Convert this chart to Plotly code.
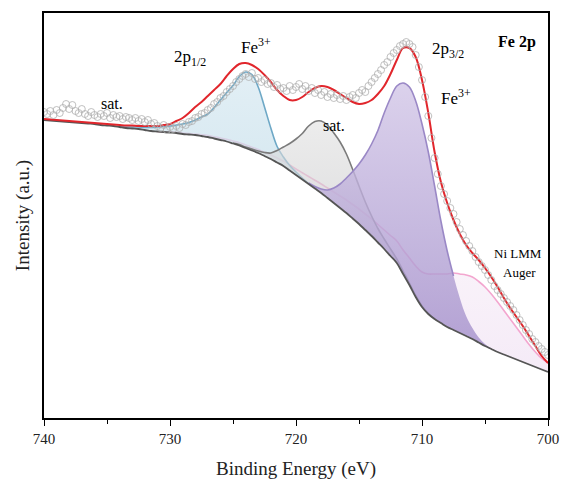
import numpy as np
import plotly.graph_objects as go

# ---------------- Fe 2p XPS spectrum ----------------
# fit grid (binding energy, eV), 740 -> 700 in 0.5 eV steps
energy = np.round(np.arange(740.0, 699.99, -0.5), 2)

# Shirley background (a.u.)
background = [298, 297.5, 297, 296.5, 296, 295.5, 295, 294.5, 294, 293, 292.5, 292, 291, 290,
              289.5, 289, 288, 287, 286.5, 286, 285.5, 285, 284, 283.5, 283, 282, 281, 279.5,
              278, 276.5, 274.5, 272.5, 270, 267.5, 265, 262, 259, 255.5, 252, 247.5, 243,
              238.5, 234, 229.5, 225, 220, 215, 210, 205, 199.5, 194, 188, 182, 175.5, 169,
              162, 155, 144, 133, 121, 111, 104, 99, 95, 91, 88, 85, 82, 79, 75.5, 72, 69, 66,
              63.5, 61, 58.5, 56, 53.5, 51, 48.5, 46]

# fitted envelope (a.u.)
envelope = [299, 298.5, 298, 297.5, 297, 296.5, 296, 295.5, 295, 294.5, 294, 293.5, 293, 292.5,
            292.5, 292, 292, 292, 292, 293, 294, 297, 300, 305, 311, 316, 322, 328, 334, 342,
            349, 354, 355, 353, 349, 343, 336, 328, 322, 318, 318, 321, 326, 330, 332, 331,
            328, 324, 320, 316, 314, 315, 318, 324, 332, 344, 358, 370, 370, 361, 338, 305,
            266, 236, 215, 198, 184, 173, 165, 158, 150, 141, 131, 120, 110, 101, 92, 82, 72,
            62, 55]

# components: heights above background, with the energy window each one spans
fe3_2p12_range = (734.0, 719.0)
fe3_2p12 = [0.5, 1, 1.5, 2, 2.5, 3.5, 4.5, 5.5, 6.5, 8, 10, 12, 15, 19, 23, 31, 40, 49, 58, 69,
            76, 76, 66, 49, 31, 16, 9, 5, 3, 1.5, 0.5]

sat_range = (725.0, 709.0)
satellite = [0.5, 1, 1, 1.5, 2, 3.5, 6, 12, 19, 27, 36, 46, 58, 67, 72, 73, 70, 66, 59, 49, 38,
             28, 20, 14, 10, 7, 4, 3, 2, 1.5, 1, 0.5, 0]

fe3_2p32_range = (719.0, 704.0)
fe3_2p32 = [1, 2, 4, 8, 15, 24, 35, 47, 60, 75, 92, 112, 136, 158, 177, 191, 198, 196, 183,
            162, 133, 102, 76, 54, 35, 20, 11, 5, 2, 0.5, 0]

auger_range = (731.0, 700.0)
ni_auger = [0, 0.3, 0.5, 0.8, 1, 1, 1, 1.3, 1.5, 1.8, 2, 2.3, 2.5, 2.8, 3, 3.3, 3.5, 3.8, 4,
            4.5, 5, 5.5, 6, 6.8, 7.5, 8.3, 9, 10, 11, 12, 13, 14, 15, 16, 17, 18, 19, 20.5, 22,
            24, 27, 31, 35, 40, 45, 49, 53, 57, 59, 61, 62, 61, 59, 55, 50, 44, 38, 32, 26,
            20, 15, 11, 9]

# measured spectrum, 740 -> 700 in 0.25 eV steps (a.u.)
meas_energy = np.round(np.arange(740.0, 699.99, -0.25), 2)
meas_counts = [306, 304, 307, 303, 308, 305, 310, 314, 309, 313, 307, 305, 309, 304, 302, 306,
               303, 301, 304, 302, 305, 300, 303, 301, 302, 299, 301, 300, 298, 300, 297, 299,
               296, 298, 294, 295, 292, 290, 293, 288, 291, 289, 292, 290, 294, 293, 296, 297,
               300, 301, 304, 305, 308, 310, 314, 316, 320, 322, 326, 329, 332, 336, 339, 342,
               344, 341, 345, 339, 340, 336, 338, 334, 335, 331, 333, 329, 330, 327, 332, 328,
               331, 334, 329, 332, 327, 330, 325, 328, 323, 326, 321, 324, 320, 323, 319, 322,
               318, 321, 323, 320, 325, 328, 326, 332, 336, 340, 344, 348, 353, 356, 361, 365,
               368, 372, 374, 376, 374, 371, 363, 351, 338, 321, 302, 280, 260, 244, 232, 224,
               217, 210, 204, 196, 189, 183, 177, 172, 167, 161, 156, 152, 148, 143, 138, 132,
               128, 124, 120, 116, 112, 108, 103, 98, 93, 88, 84, 79, 76, 72, 69, 66, 63]

SERIF = "Liberation Serif, Times New Roman, serif"

fig = go.Figure()


def window(rng):
    hi, lo = rng
    return np.where((energy <= hi + 1e-9) & (energy >= lo - 1e-9))[0]


def add_component(rng, heights, line_color, gradient, line_until=None):
    idx = window(rng)
    x = energy[idx]
    base = np.asarray(background)[idx]
    top = base + np.asarray(heights)
    fig.add_trace(go.Scatter(x=x, y=base, mode="lines", line=dict(width=0, shape="spline"),
                             hoverinfo="skip", showlegend=False))
    outline = dict(color=line_color, width=1.6, shape="spline")
    if line_until is not None:
        outline = dict(width=0, shape="spline")
    fig.add_trace(go.Scatter(x=x, y=top, mode="lines", fill="tonexty",
                             fillgradient=dict(type="vertical", colorscale=gradient),
                             line=outline, showlegend=False))
    if line_until is not None:
        keep = x >= line_until - 1e-9
        fig.add_trace(go.Scatter(x=x[keep], y=top[keep], mode="lines",
                                 line=dict(color=line_color, width=1.6, shape="spline"),
                                 showlegend=False))


# Ni LMM Auger
add_component(auger_range, ni_auger, "#f3a6cf",
              [[0, "rgba(236,218,240,0.55)"], [1, "rgba(254,248,251,0.5)"]])
# Fe3+ 2p1/2
add_component(fe3_2p12_range, fe3_2p12, "#6ea8c6",
              [[0, "rgba(196,222,234,0.7)"], [1, "rgba(214,232,241,0.7)"]])
# satellite
add_component(sat_range, satellite, "#7b7b7b",
              [[0, "rgba(182,182,186,0.6)"], [1, "rgba(224,224,224,0.6)"]])
# Fe3+ 2p3/2 (outline stops where it meets the Auger component)
add_component(fe3_2p32_range, fe3_2p32, "#9a88c6",
              [[0, "rgba(162,142,202,0.8)"], [1, "rgba(210,198,231,0.8)"]],
              line_until=707.5)

# background line
fig.add_trace(go.Scatter(x=energy, y=background, mode="lines",
                         line=dict(color="#555555", width=1.8, shape="spline"),
                         showlegend=False))
# envelope
fig.add_trace(go.Scatter(x=energy, y=envelope, mode="lines",
                         line=dict(color="#e1262c", width=2, shape="spline"),
                         showlegend=False))
# raw data
fig.add_trace(go.Scatter(x=meas_energy, y=meas_counts, mode="markers",
                         marker=dict(symbol="circle-open", size=7, color="#b0b0b0",
                                     line=dict(width=0.8)),
                         showlegend=False))

labels = [
    dict(x=702.5, y=376, text="<b>Fe 2p</b>", size=16),
    dict(x=728.4, y=360, text="2p<sub>1/2</sub>", size=17),
    dict(x=723.2, y=372, text="Fe<sup>3+</sup>", size=17),
    dict(x=734.6, y=315, text="sat.", size=16),
    dict(x=717.0, y=293, text="sat.", size=16),
    dict(x=707.9, y=368, text="2p<sub>3/2</sub>", size=17),
    dict(x=707.3, y=321, text="Fe<sup>3+</sup>", size=17),
    dict(x=702.4, y=165, text="Ni LMM", size=13),
    dict(x=702.3, y=146, text="Auger", size=13),
]
for lb in labels:
    fig.add_annotation(x=lb["x"], y=lb["y"], text=lb["text"], showarrow=False,
                       font=dict(family=SERIF, size=lb["size"], color="black"))

fig.update_xaxes(range=[740, 700], showgrid=False, zeroline=False, automargin=False,
                 showline=True, linecolor="black", linewidth=1.5, mirror=True,
                 ticks="outside", ticklen=6, tickwidth=1.3, tickcolor="black",
                 tickvals=[740, 730, 720, 710, 700],
                 minor=dict(tickvals=[735, 725, 715, 705], ticks="outside",
                            ticklen=4, tickwidth=1.2, tickcolor="black"),
                 tickfont=dict(family=SERIF, size=15, color="#222"),
                 title=dict(text="Binding Energy (eV)",
                            font=dict(family=SERIF, size=19, color="#222"), standoff=16))
fig.update_yaxes(range=[0, 405], showgrid=False, zeroline=False, automargin=False,
                 showline=True, linecolor="black", linewidth=1.5, mirror=True,
                 ticks="", showticklabels=False,
                 title=dict(text="Intensity (a.u.)",
                            font=dict(family=SERIF, size=19, color="#222"), standoff=8))

fig.update_layout(width=561, height=484, margin=dict(l=44, r=13, t=13, b=66),
                  plot_bgcolor="white", paper_bgcolor="white", showlegend=False)

fig.write_html("out.html")
